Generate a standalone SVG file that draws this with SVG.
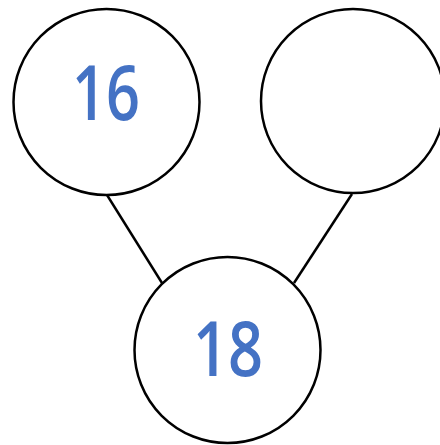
<svg xmlns="http://www.w3.org/2000/svg" width="440" height="445" viewBox="0 0 440 445">
<style>
.node{fill:#fff;stroke:#000;stroke-width:2.5}
.conn{stroke:#000;stroke-width:2.5;fill:none}
.lbl{font-family:"Open Sans","Noto Sans",sans-serif;font-size:76px;font-weight:600;fill:#4472C4;text-anchor:middle}
</style>
<rect width="440" height="445" fill="#fff"/>
<g id="connectors">
<line class="conn" x1="107" y1="195" x2="162" y2="283"/>
<line class="conn" x1="352" y1="194" x2="294" y2="283"/>
</g>
<g id="node16">
<circle class="node" cx="106.5" cy="102" r="93"/>
<text class="lbl" x="106" y="120" textLength="68" lengthAdjust="spacingAndGlyphs">16</text>
</g>
<g id="nodeEmpty">
<circle class="node" cx="353" cy="101" r="92"/>
</g>
<g id="node18">
<circle class="node" cx="227.5" cy="350" r="93"/>
<text class="lbl" x="228" y="376" textLength="70" lengthAdjust="spacingAndGlyphs">18</text>
</g>
</svg>
